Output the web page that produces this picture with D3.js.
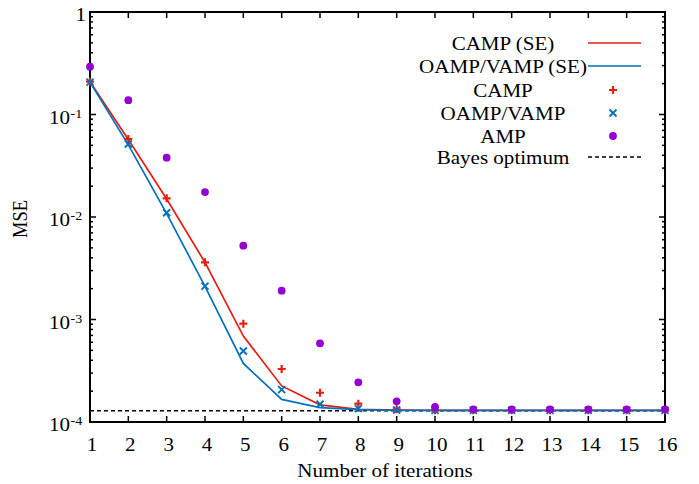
<!DOCTYPE html>
<html>
<head>
<meta charset="utf-8">
<script src="https://cdn.jsdelivr.net/npm/d3@7"></script>
<style>
body { margin: 0; background: #fff; }
svg { display: block; }
text { font-family: "Liberation Serif", "Times New Roman", serif; fill: #000; }
</style>
</head>
<body>
<svg id="chart" width="699" height="484"></svg>
<script>
// data
var iters = [1, 2, 3, 4, 5, 6, 7, 8, 9, 10, 11, 12, 13, 14, 15, 16];
var campSE = [0.209, 0.057, 0.0150, 0.0036, 0.00069, 0.000225, 0.000147, 0.000133, 0.000131, 0.00013, 0.00013, 0.00013, 0.00013, 0.00013, 0.00013, 0.00013];
var oampSE = [0.207, 0.0505, 0.0108, 0.0021, 0.000373, 0.000166, 0.000138, 0.000132, 0.00013, 0.00013, 0.00013, 0.00013, 0.00013, 0.00013, 0.00013, 0.00013];
var campSim = [0.209, 0.0577, 0.0152, 0.00361, 0.00091, 0.000329, 0.000193, 0.000151, 0.000133, 0.00013, 0.00013, 0.00013, 0.00013, 0.00013, 0.00013, 0.00013];
var oampSim = [0.207, 0.0515, 0.011, 0.00212, 0.000493, 0.000207, 0.000149, 0.000135, 0.000131, 0.00013, 0.00013, 0.00013, 0.00013, 0.00013, 0.00013, 0.00013];
var ampSim = [0.293, 0.138, 0.0379, 0.0175, 0.00525, 0.00191, 0.000585, 0.000244, 0.000159, 0.00014, 0.000133, 0.000133, 0.000133, 0.000133, 0.000133, 0.000133];
var bayesOpt = 0.000129;
var yTickExp = [0, -1, -2, -3, -4];
var legendLabels = ["CAMP (SE)", "OAMP/VAMP (SE)", "CAMP", "OAMP/VAMP", "AMP", "Bayes optimum"];

var red = "#e51e10", blue = "#0072bd", purple = "#9400d3";
var sx = 1.17; // the figure text looks stretched horizontally

var svg = d3.select("#chart");
var pLeft = 90, pRight = 665, pTop = 12, pBottom = 422;

var x = d3.scaleLinear().domain([1, 16]).range([pLeft, pRight]);
var y = d3.scaleLog().domain([1e-4, 1]).range([pBottom, pTop]);

function label(g, str, px, py, anchor, size) {
	return g.append("text")
	.attr("transform", "translate(" + px + "," + py + ") scale(" + sx + ",1)")
	.attr("text-anchor", anchor || "middle")
	.attr("font-size", size || 18)
	.text(str);
}

// clip for data
svg.append("clipPath").attr("id", "clip")
.append("rect").attr("x", pLeft).attr("y", pTop).attr("width", pRight - pLeft).attr("height", pBottom - pTop);

// ticks (inward, all four sides)
var ticks = svg.append("g").attr("stroke", "#000").attr("stroke-width", 1.5);
iters.forEach(function(d) {
	ticks.append("line").attr("x1", x(d)).attr("x2", x(d)).attr("y1", pBottom).attr("y2", pBottom - 6);
	ticks.append("line").attr("x1", x(d)).attr("x2", x(d)).attr("y1", pTop).attr("y2", pTop + 6);
});
y.ticks().forEach(function(v) {
	var major = Math.abs(Math.log10(v) - Math.round(Math.log10(v))) < 1e-9;
	var len = major ? 6 : 3;
	ticks.append("line").attr("x1", pLeft).attr("x2", pLeft + len).attr("y1", y(v)).attr("y2", y(v));
	ticks.append("line").attr("x1", pRight).attr("x2", pRight - len).attr("y1", y(v)).attr("y2", y(v));
});

// frame
svg.append("rect")
.attr("x", pLeft).attr("y", pTop).attr("width", pRight - pLeft).attr("height", pBottom - pTop)
.attr("fill", "none").attr("stroke", "#000").attr("stroke-width", 2);

// tick labels
var tl = svg.append("g");
iters.forEach(function(d) {
	label(tl, d, x(d) + 2, 451, "middle");
});
yTickExp.forEach(function(e) {
	var py = y(Math.pow(10, e)) + 9;
	if (e === 0) {
		label(tl, "1", 86, py, "end");
	} else {
		label(tl, "10", 70, py, "end");
		label(tl, e, 70.5, py - 6, "start", 12);
	}
});

// axis titles
label(svg, "Number of iterations", 385, 477, "middle");
svg.append("text")
.attr("transform", "translate(27,219) rotate(-90) scale(1," + sx + ")")
.attr("text-anchor", "middle")
.attr("font-size", 18.5)
.text("MSE");

var plot = svg.append("g").attr("clip-path", "url(#clip)");

// bayes optimum
plot.append("line")
.attr("x1", pLeft).attr("x2", pRight).attr("y1", y(bayesOpt)).attr("y2", y(bayesOpt))
.attr("stroke", "#000").attr("stroke-width", 1.5).attr("stroke-dasharray", "4,3");

var line = d3.line()
.x(function(d, i) { return x(iters[i]); })
.y(function(d) { return y(d); });

plot.append("path").datum(campSE).attr("d", line)
.attr("fill", "none").attr("stroke", red).attr("stroke-width", 1.7);
plot.append("path").datum(oampSE).attr("d", line)
.attr("fill", "none").attr("stroke", blue).attr("stroke-width", 1.7);

var pts = svg.append("g");

function plus(g, px, py) {
	g.append("path")
	.attr("d", "M" + (px - 4) + "," + py + "H" + (px + 4) + "M" + px + "," + (py - 4) + "V" + (py + 4))
	.attr("stroke", red).attr("stroke-width", 2.2).attr("fill", "none");
}
function cross(g, px, py) {
	g.append("path")
	.attr("d", "M" + (px - 3.5) + "," + (py - 3.5) + "L" + (px + 3.5) + "," + (py + 3.5) +
		"M" + (px - 3.5) + "," + (py + 3.5) + "L" + (px + 3.5) + "," + (py - 3.5))
	.attr("stroke", blue).attr("stroke-width", 1.9).attr("fill", "none");
}

campSim.forEach(function(d, i) { plus(pts, x(iters[i]), y(d)); });
oampSim.forEach(function(d, i) { cross(pts, x(iters[i]), y(d)); });

pts.selectAll("circle.amp")
.data(ampSim)
.enter()
.append("circle")
.attr("class", "amp")
.attr("cx", function(d, i) { return x(iters[i]); })
.attr("cy", function(d) { return y(d); })
.attr("r", 3.9)
.attr("fill", purple);

// legend
var lg = svg.append("g");
var rowY = [43, 66, 90, 113, 136, 157];
legendLabels.forEach(function(s, i) {
	label(lg, s, 503, rowY[i] + 7, "middle");
});
lg.append("line").attr("x1", 588).attr("x2", 641).attr("y1", rowY[0]).attr("y2", rowY[0])
.attr("stroke", red).attr("stroke-width", 1.7);
lg.append("line").attr("x1", 588).attr("x2", 641).attr("y1", rowY[1]).attr("y2", rowY[1])
.attr("stroke", blue).attr("stroke-width", 1.7);
plus(lg, 613, rowY[2]);
cross(lg, 613, rowY[3]);
lg.append("circle").attr("cx", 613).attr("cy", rowY[4]).attr("r", 3.9).attr("fill", purple);
lg.append("line").attr("x1", 588).attr("x2", 641).attr("y1", rowY[5]).attr("y2", rowY[5])
.attr("stroke", "#000").attr("stroke-width", 1.5).attr("stroke-dasharray", "4,3");
</script>
</body>
</html>
